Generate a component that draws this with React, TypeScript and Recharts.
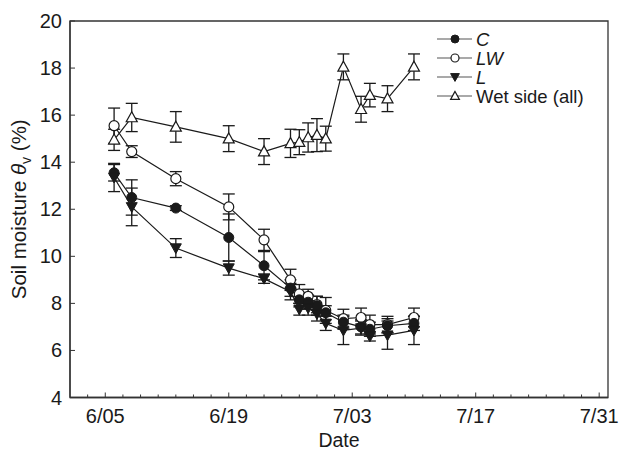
import { ComposedChart, ErrorBar, Legend, Line, ReferenceArea, XAxis, YAxis } from "recharts";

// sampling dates (shared by every series)
const dates = ["6/06", "6/08", "6/13", "6/19", "6/23", "6/26", "6/27", "6/28", "6/29", "6/30", "7/02", "7/04", "7/05", "7/07", "7/10"];

const cValues = [13.55, 12.5, 12.05, 10.8, 9.6, 8.65, 8.15, 8.05, 7.9, 7.6, 7.2, 7.0, 6.9, 7.05, 7.15];
const cErr = [0.35, 0.75, 0.1, 1.0, 0.6, 0.35, 0.3, 0.3, 0.4, 0.3, 0.3, 0.3, 0.3, 0.3, 0.3];

const lwValues = [15.55, 14.45, 13.3, 12.1, 10.7, 9.0, 8.4, 8.3, 7.95, 7.7, 7.35, 7.4, 7.1, 7.1, 7.4];
const lwErr = [0.75, 0.25, 0.3, 0.55, 0.45, 0.45, 0.4, 0.3, 0.35, 0.55, 0.4, 0.4, 0.4, 0.35, 0.4];

const lValues = [13.35, 12.1, 10.35, 9.5, 9.05, 8.5, 7.75, 7.8, 7.55, 7.15, 6.85, 6.95, 6.6, 6.65, 6.85];
const lErr = [0.6, 0.8, 0.4, 0.3, 0.2, 0.35, 0.25, 0.3, 0.3, 0.3, 0.6, 0.3, 0.2, 0.6, 0.6];

const wetValues = [14.95, 15.9, 15.5, 15.0, 14.45, 14.8, 14.85, 15.05, 15.15, 15.0, 18.05, 16.25, 16.85, 16.7, 18.05];
const wetErr = [0.45, 0.6, 0.65, 0.55, 0.55, 0.6, 0.53, 0.62, 0.7, 0.53, 0.55, 0.55, 0.5, 0.55, 0.55];

const xTickLabels = ["6/05", "6/19", "7/03", "7/17", "7/31"];
const yTicks = [4, 6, 8, 10, 12, 14, 16, 18, 20];

const FONT = '"Liberation Sans", Arial, Helvetica, sans-serif';
const INK = "#1a1a1a";
const AXIS = "#333";
const TICK_MARGIN = 8;

/** days since 6/01 */
const dayOf = (md: string) => {
  const [m, d] = md.split("/").map(Number);
  return (m === 6 ? 0 : 30) + d - 1;
};

// minor ticks every 2 days across the axis
const xTicks = Array.from({ length: 30 }, (_, i) => 2 + i * 2);
const labelByDay = new Map(xTickLabels.map((t) => [dayOf(t), t]));

const chartData = dates.map((date, i) => ({
  day: dayOf(date),
  c: cValues[i],
  cErr: cErr[i],
  lw: lwValues[i],
  lwErr: lwErr[i],
  l: lValues[i],
  lErr: lErr[i],
  wet: wetValues[i],
  wetErr: wetErr[i],
}));

type Shape = "filledCircle" | "openCircle" | "filledDown" | "openUp";

const series: { key: string; name: string; italic: boolean; shape: Shape }[] = [
  { key: "c", name: "C", italic: true, shape: "filledCircle" },
  { key: "lw", name: "LW", italic: true, shape: "openCircle" },
  { key: "l", name: "L", italic: true, shape: "filledDown" },
  { key: "wet", name: "Wet side (all)", italic: false, shape: "openUp" },
];

function Marker({ shape, cx, cy, s }: { shape: Shape; cx: number; cy: number; s: number }) {
  if (cx == null || cy == null) return null;
  switch (shape) {
    case "filledCircle":
      return <circle cx={cx} cy={cy} r={s} fill={INK} stroke={INK} strokeWidth={1} />;
    case "openCircle":
      return <circle cx={cx} cy={cy} r={s} fill="#fff" stroke={INK} strokeWidth={1.2} />;
    case "filledDown":
      return (
        <polygon
          points={`${cx - s * 1.1},${cy - s * 0.85} ${cx + s * 1.1},${cy - s * 0.85} ${cx},${cy + s * 1.1}`}
          fill={INK}
          stroke={INK}
          strokeWidth={1}
        />
      );
    default:
      return (
        <polygon
          points={`${cx},${cy - s * 1.15} ${cx - s * 1.1},${cy + s * 0.85} ${cx + s * 1.1},${cy + s * 0.85}`}
          fill="#fff"
          stroke={INK}
          strokeWidth={1.2}
        />
      );
  }
}

const makeDot = (key: string, shape: Shape) => (p: any) => (
  <Marker key={`${key}-${p.index}`} shape={shape} cx={p.cx} cy={p.cy} s={5} />
);

function XTick(props: any) {
  const { x, y, payload } = props;
  const axisY = y - TICK_MARGIN;
  const label = labelByDay.get(payload.value);
  return (
    <g>
      <line x1={x} x2={x} y1={axisY} y2={axisY - (label ? 5 : 3)} stroke={AXIS} strokeWidth={1} />
      {label ? (
        <text x={x} y={axisY + 25} textAnchor="middle" fontSize={20} fontFamily={FONT} fill={INK}>
          {label}
        </text>
      ) : null}
    </g>
  );
}

function YTick(props: any) {
  const { x, y, payload } = props;
  const axisX = x + TICK_MARGIN;
  return (
    <g>
      <line x1={axisX} x2={axisX + 5} y1={y} y2={y} stroke={AXIS} strokeWidth={1} />
      <text x={x} y={y + 7} textAnchor="end" fontSize={20} fontFamily={FONT} fill={INK}>
        {payload.value}
      </text>
    </g>
  );
}

function YLabel(props: any) {
  const vb = props.viewBox ?? { x: 0, y: 0, width: 70, height: 376 };
  const bx = vb.x + 26;
  const cy = vb.y + vb.height / 2;
  return (
    <text
      x={bx}
      y={cy}
      transform={`rotate(-90, ${bx}, ${cy})`}
      textAnchor="middle"
      fontSize={20.5}
      fontFamily={FONT}
      fill={INK}
    >
      Soil moisture{" "}
      <tspan fontStyle="italic">θ</tspan>
      <tspan fontSize={14} dy={5}>v</tspan>
      <tspan dy={-5}> (%)</tspan>
    </text>
  );
}

function XLabel(props: any) {
  const vb = props.viewBox ?? { x: 70, y: 397.5, width: 538, height: 55 };
  return (
    <text x={vb.x + vb.width / 2} y={vb.y + 49} textAnchor="middle" fontSize={19.5} fontFamily={FONT} fill={INK}>
      Date
    </text>
  );
}

function LegendBox() {
  return (
    <svg width={185} height={82} style={{ display: "block", overflow: "visible" }}>
      {series.map((s, i) => {
        const cy = 11 + i * 19;
        return (
          <g key={s.key}>
            <line x1={7} x2={42} y1={cy} y2={cy} stroke="#555" strokeWidth={1.2} />
            <Marker shape={s.shape} cx={25} cy={cy} s={4} />
            <text
              x={46}
              y={cy + 6.5}
              fontSize={18.5}
              fontFamily={FONT}
              fontStyle={s.italic ? "italic" : "normal"}
              fill={INK}
            >
              {s.name}
            </text>
          </g>
        );
      })}
    </svg>
  );
}

export default function App() {
  return (
    <div style={{ position: "absolute", left: 0, top: 0, width: 622, height: 453, background: "#fff" }}>
      <style>{"body{margin:0;}"}</style>
      <ComposedChart width={622} height={453} data={chartData} margin={{ top: 21, right: 14, left: 0, bottom: 0 }}>
        <XAxis
          dataKey="day"
          type="number"
          domain={[0, 61]}
          ticks={xTicks}
          interval={0}
          tick={<XTick />}
          tickLine={false}
          tickSize={0}
          tickMargin={TICK_MARGIN}
          axisLine={{ stroke: AXIS, strokeWidth: 1.3 }}
          height={55.5}
          label={{ content: <XLabel /> }}
        />
        <YAxis
          type="number"
          domain={[4, 20]}
          ticks={yTicks}
          interval={0}
          tick={<YTick />}
          tickLine={false}
          tickSize={0}
          tickMargin={TICK_MARGIN}
          axisLine={{ stroke: AXIS, strokeWidth: 1.3 }}
          width={70}
          label={{ content: <YLabel /> }}
        />
        <ReferenceArea x1={0} x2={61} y1={4} y2={20} fill="none" stroke={AXIS} strokeWidth={1.3} />
        <Legend
          layout="vertical"
          align="center"
          verticalAlign="middle"
          content={<LegendBox />}
          wrapperStyle={{ position: "absolute", left: 430, top: 28, width: 185, height: 82 }}
        />

        <Line
          dataKey="wet"
          name="Wet side (all)"
          stroke={INK}
          strokeWidth={1.2}
          type="linear"
          dot={makeDot("wet", "openUp")}
          activeDot={false}
          isAnimationActive={false}
        >
          <ErrorBar dataKey="wetErr" direction="y" width={6} stroke={INK} strokeWidth={1.3} />
        </Line>
        <Line
          dataKey="lw"
          name="LW"
          stroke={INK}
          strokeWidth={1.2}
          type="linear"
          dot={makeDot("lw", "openCircle")}
          activeDot={false}
          isAnimationActive={false}
        >
          <ErrorBar dataKey="lwErr" direction="y" width={6} stroke={INK} strokeWidth={1.3} />
        </Line>
        <Line
          dataKey="c"
          name="C"
          stroke={INK}
          strokeWidth={1.2}
          type="linear"
          dot={makeDot("c", "filledCircle")}
          activeDot={false}
          isAnimationActive={false}
        >
          <ErrorBar dataKey="cErr" direction="y" width={6} stroke={INK} strokeWidth={1.3} />
        </Line>
        <Line
          dataKey="l"
          name="L"
          stroke={INK}
          strokeWidth={1.2}
          type="linear"
          dot={makeDot("l", "filledDown")}
          activeDot={false}
          isAnimationActive={false}
        >
          <ErrorBar dataKey="lErr" direction="y" width={6} stroke={INK} strokeWidth={1.3} />
        </Line>
      </ComposedChart>
    </div>
  );
}
